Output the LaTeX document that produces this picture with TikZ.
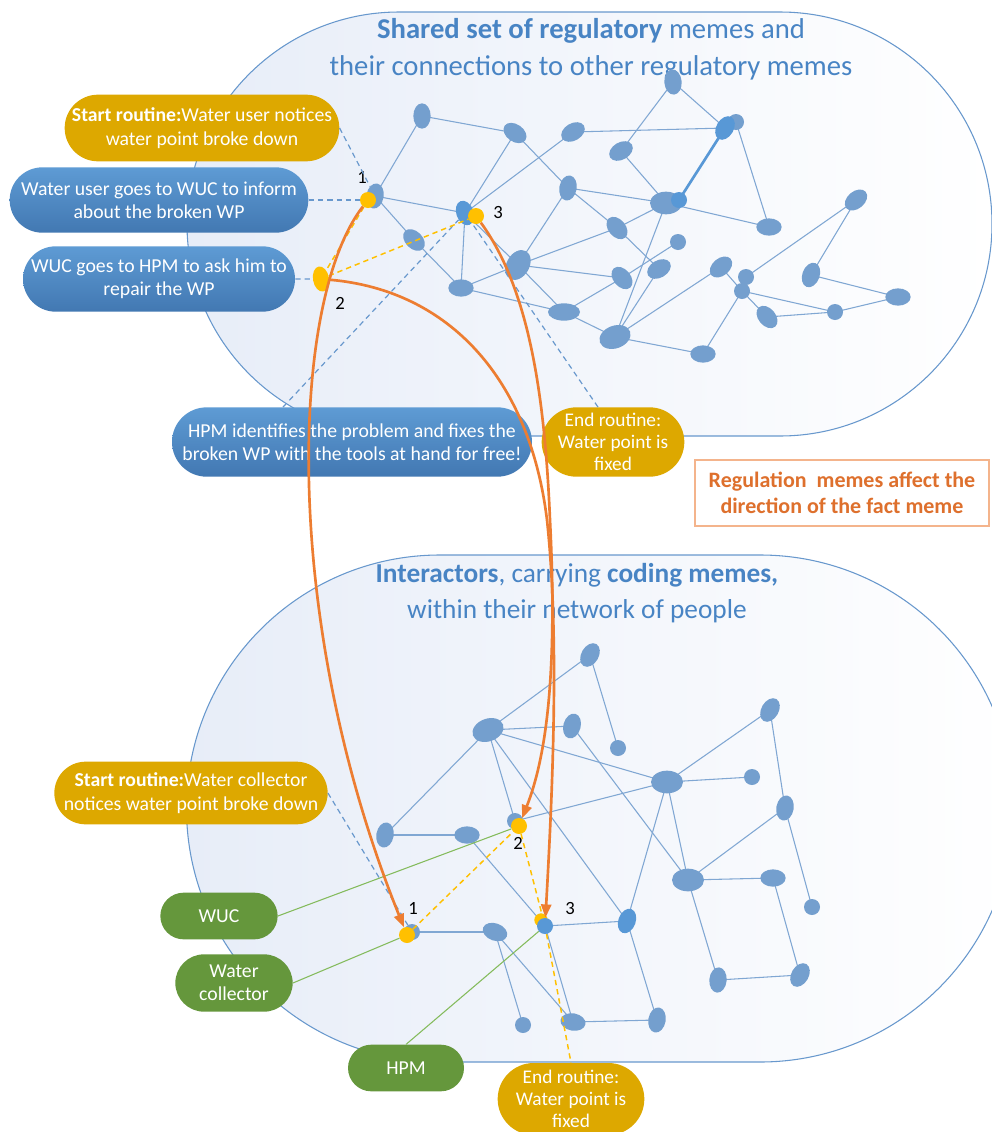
\documentclass[tikz,border=0pt]{standalone}
\usepackage{fontspec}
\setmainfont{Carlito}
\usetikzlibrary{shapes.geometric,shapes.misc,arrows.meta,calc}
\definecolor{rim}{RGB}{104,152,205}
\definecolor{haze}{RGB}{231,237,248}
\definecolor{memeblue}{RGB}{116,159,206}
\definecolor{memebright}{RGB}{88,152,214}
\definecolor{linkblue}{RGB}{128,167,211}
\definecolor{titleblue}{RGB}{72,132,196}
\definecolor{gold}{RGB}{221,168,0}
\definecolor{boxtop}{RGB}{94,155,212}
\definecolor{boxbot}{RGB}{66,120,178}
\definecolor{leaf}{RGB}{101,151,60}
\definecolor{leafline}{RGB}{132,187,92}
\definecolor{flow}{RGB}{237,125,49}
\definecolor{amber}{RGB}{255,192,0}
\definecolor{notetext}{RGB}{222,112,45}
\definecolor{noteedge}{RGB}{244,180,140}
\pgfdeclarelayer{back}
\pgfdeclarelayer{links}
\pgfsetlayers{back,links,main}
\begin{document}
\begin{tikzpicture}[x=0.75pt,y=-0.75pt,
  nd/.style={ellipse,fill=memeblue,inner sep=0pt,minimum width=12pt,minimum height=12pt},
  blob/.style={nd,minimum width=19pt,minimum height=13pt},
  bigblob/.style={nd,minimum width=24pt,minimum height=17pt},
  hot/.style={ellipse,fill=amber,inner sep=0pt,minimum width=12pt,minimum height=12pt},
  link/.style={draw=linkblue,line width=0.8pt},
  cue/.style={draw=rim,line width=0.9pt,dash pattern=on 4pt off 3pt},
  route/.style={draw=amber,line width=1.1pt,dash pattern=on 4pt off 3pt},
  owner/.style={draw=leafline,line width=0.8pt},
  fact/.style={draw=flow,line width=2pt,-{Triangle[length=10pt,width=7.5pt]}},
  boxfont/.style={font=\fontsize{14.8}{17.5}\selectfont},
  goldbox/.style={rounded rectangle,fill=gold,text=white,align=center,inner sep=0pt,boxfont},
  bluebox/.style={rounded rectangle,top color=boxtop,bottom color=boxbot,text=white,align=center,inner sep=0pt,boxfont},
  greenbox/.style={rounded rectangle,fill=leaf,text=white,align=center,inner sep=0pt,boxfont},
  num/.style={inner sep=0pt,font=\fontsize{14}{14}\selectfont},
  heading/.style={align=center,text=titleblue}]
\useasboundingbox (0,0) rectangle (992,1132);

% ---------- the two containers ----------
\begin{pgfonlayer}{back}
\shade[left color=haze,right color=white,draw=rim,line width=0.8pt]
  (399,12) -- (780,12) arc[start angle=270,end angle=450,radius=212]
  -- (399,436) arc[start angle=90,end angle=270,radius=212] -- cycle;
\shade[left color=haze,right color=white,draw=rim,line width=0.8pt]
  (440,555) -- (760,555) arc[start angle=270,end angle=450,radius=253.5]
  -- (440,1062) arc[start angle=90,end angle=270,radius=253.5] -- cycle;
\end{pgfonlayer}

\node[heading,font=\fontsize{21.5}{27.8}\selectfont] (ttop) at (591,49)
  {\textbf{Shared set of regulatory} memes and\\their connections to other regulatory memes};
\node[heading,font=\fontsize{20.5}{26.5}\selectfont] (tbot) at (577,593)
  {\textbf{Interactors}, carrying \textbf{coding memes,}\\within their network of people};

% ---------- regulatory memes (upper network) ----------
\node[blob,rotate=90] (A1) at (422,116) {};
\node[blob,rotate=-35] (A2) at (515,133) {};
\node[blob,rotate=30] (A3) at (573,132) {};
\node[blob,rotate=95] (A4) at (673,82) {};
\node[nd] (A5b) at (736,122) {};
\node[blob,rotate=60,fill=memebright] (A5) at (725,128) {};
\node[blob,rotate=30] (A6) at (621,151) {};
\node[blob,rotate=80] (A7) at (568,188) {};
\node[bigblob] (A8) at (666,203) {};
\node[nd,fill=memebright] (A8b) at (679,200) {};
\node[blob] (A9) at (769,227) {};
\node[blob,rotate=40] (A10) at (856,200) {};
\node[blob,rotate=80] (A11) at (375,196) {};
\node[blob,rotate=-70,fill=memebright] (A12) at (465,213) {};
\node[blob,rotate=-45] (A13) at (414,240) {};
\node[bigblob,rotate=60] (A14) at (518,265) {};
\node[blob,rotate=-50] (A15) at (617,228) {};
\node[nd] (A16) at (678,242) {};
\node[blob] (A17) at (461,288) {};
\node[blob,minimum width=24pt] (A18) at (564,312) {};
\node[blob,rotate=30] (A19) at (659,269) {};
\node[blob,rotate=40] (A20) at (721,267) {};
\node[nd] (A21) at (746,277) {};
\node[nd] (A22) at (742,291) {};
\node[blob,rotate=-50] (A23) at (622,278) {};
\node[blob,rotate=70] (A24) at (811,275) {};
\node[blob] (A25) at (898,297) {};
\node[nd] (A26) at (835,312) {};
\node[blob,rotate=-50] (A27) at (767,317) {};
\node[bigblob,rotate=20] (A28) at (615,337) {};
\node[blob] (A29) at (703,354) {};

% routine markers in the upper network
\node[hot] (Tn1) at (368,200) {};
\node[hot,rotate=100,minimum width=19pt] (Tn2) at (321,279) {};
\node[hot] (Tn3) at (476,216) {};
\node[num] (l1) at (362,177) {1};
\node[num] (l2) at (340,303) {2};
\node[num] (l3) at (498,213) {3};

% ---------- interactors (lower network) ----------
\node[blob,rotate=60] (B1) at (590,655) {};
\node[bigblob,rotate=20] (B2) at (488,730) {};
\node[blob,rotate=75] (B3) at (572,726) {};
\node[nd] (B4) at (618,748) {};
\node[bigblob] (B5) at (667,782) {};
\node[nd] (B6) at (752,777) {};
\node[blob,rotate=60] (B7) at (770,710) {};
\node[blob,rotate=80] (B8) at (785,808) {};
\node[blob,rotate=80] (B9) at (385,835) {};
\node[blob] (B10) at (467,835) {};
\node[nd] (Bn2) at (515,821) {};
\node[bigblob] (B11) at (688,880) {};
\node[blob] (B12) at (773,878) {};
\node[nd] (B13) at (812,907) {};
\node[nd] (Bn1) at (412,932) {};
\node[blob,rotate=-20] (B14) at (495,932) {};
\node[hot,minimum width=10pt,minimum height=10pt] (Bn3y) at (541,920) {};
\node[nd,fill=memebright] (Bn3) at (545,926) {};
\node[blob,rotate=70,fill=memebright] (B15) at (627,921) {};
\node[blob,rotate=85] (B16) at (718,980) {};
\node[blob,rotate=60] (B17) at (800,975) {};
\node[nd] (B18) at (523,1025) {};
\node[blob,rotate=-10] (B19) at (573,1022) {};
\node[blob,rotate=80] (B20) at (657,1020) {};
\node[hot] (Bn1y) at (407,935) {};
\node[hot] (Bn2y) at (519,826) {};
\node[num] (m1) at (413,908) {1};
\node[num] (m2) at (518,843) {2};
\node[num] (m3) at (570,908) {3};

% ---------- network links ----------
\begin{pgfonlayer}{links}
\foreach \a/\b in {A1/A2,A1/A11,A2/A7,A2/A12,A3/A12,A3/A5,A4/A6,A4/A5,A6/A8,
  A5b/A9,A8/A9,A8/A15,A8/A28,A7/A8,A7/A15,A7/A14,A12/A14,A14/A15,A14/A23,
  A14/A18,A17/A14,A17/A18,A15/A19,A16/A23,A23/A18,A18/A28,A19/A28,A28/A20,
  A28/A29,A20/A22,A22/A29,A22/A26,A22/A27,A27/A26,A26/A25,A24/A25,A21/A10,
  A10/A24,A13/A17,A11/A13,A11/A12,A12/A17,
  B1/B2,B1/B4,B2/B3,B2/B9,B2/Bn2,B2/B5,B2/B15,B3/B11,B5/B7,B5/B6,B5/Bn2,
  B5/B15,B5/B11,B7/B8,B8/B13,B8/B11,B9/B10,B10/Bn3,B11/B12,B11/B16,B12/B17,
  B16/B17,Bn1/B14,B14/B18,B14/B19,Bn3/B15,Bn3/B19,B15/B20,B19/B20}
  \draw[link] (\a.center) -- (\b.center);
\draw[draw=memebright,line width=2pt] (A5.center) -- (A8b.center);
\end{pgfonlayer}

% ---------- routine boxes ----------
\node[goldbox,minimum width=206pt,minimum height=50pt] (st1) at (202,128)
  {\textbf{Start routine:}Water user notices\\water point broke down};
\node[bluebox,minimum width=224pt,minimum height=49pt] (wu) at (159,200)
  {Water user goes to WUC to inform\\about the broken WP};
\node[bluebox,minimum width=204pt,minimum height=49pt] (wg) at (159,279)
  {WUC goes to HPM to ask him to\\repair the WP};
\node[bluebox,minimum width=270pt,minimum height=52pt] (fix) at (352,442)
  {HPM identifies the problem and fixes the\\broken WP with the tools at hand for free!};
\node[goldbox,minimum width=107pt,minimum height=52pt,font=\fontsize{14.5}{16.5}\selectfont] (end1) at (613,442)
  {End routine:\\Water point is\\fixed};
\node[draw=noteedge,line width=1.3pt,fill=white,text=notetext,align=center,inner sep=0pt,
  minimum width=221pt,minimum height=49pt,font=\bfseries\fontsize{16.5}{20}\selectfont] (note) at (842,493)
  {Regulation\ \ memes affect the\\direction of the fact meme};

\node[goldbox,minimum width=205pt,minimum height=47pt] (st2) at (191,793)
  {\textbf{Start routine:}Water collector\\notices water point broke down};
\node[greenbox,minimum width=88pt,minimum height=35pt] (wucg) at (219,916) {WUC};
\node[greenbox,minimum width=88pt,minimum height=43pt] (wcol) at (234,983) {Water\\collector};
\node[greenbox,minimum width=87pt,minimum height=35pt] (hpmg) at (406,1068) {HPM};
\node[goldbox,minimum width=110pt,minimum height=54pt,font=\fontsize{14.5}{16.5}\selectfont] (end2) at (571,1099)
  {End routine:\\Water point is\\fixed};

% ---------- dashed cues from the boxes ----------
\draw[cue] (st1.east) -- (A11);
\draw[cue] (wu.east) -- (Tn1);
\draw[cue] (wg.east) -- (Tn2);
\draw[cue] ($(fix.north)+(-69,0)$) -- (A12);
\draw[cue] ($(end1.north)+(-15,0)$) -- (A12);
\draw[cue] (st2.east) -- (Bn1);

% ---------- routine steps ----------
\draw[route] (Tn1) -- (Tn2);
\draw[route] (Tn2) -- (Tn3);
\draw[route] (Bn1y) -- (Bn2y);
\draw[route] (Bn2y) -- (Bn3);
\draw[route] (Bn3) -- (end2.north);

% ---------- who carries which step ----------
\draw[owner] (wucg.east) -- (Bn2y);
\draw[owner] (wcol.east) -- (Bn1y);
\draw[owner] (hpmg.north) -- (Bn3);

% ---------- fact meme directed by the regulation memes ----------
\draw[fact] (Tn1) .. controls (290,300) and (280,620) .. (Bn1y);
\draw[fact] (Tn2) .. controls (450,290) and (530,380) .. (547,520)
  .. controls (560,640) and (552,800) .. (Bn3);
\draw[fact] (Tn3) .. controls (530,290) and (545,400) .. (550,520)
  .. controls (558,680) and (545,760) .. (Bn2y);
\end{tikzpicture}
\end{document}
